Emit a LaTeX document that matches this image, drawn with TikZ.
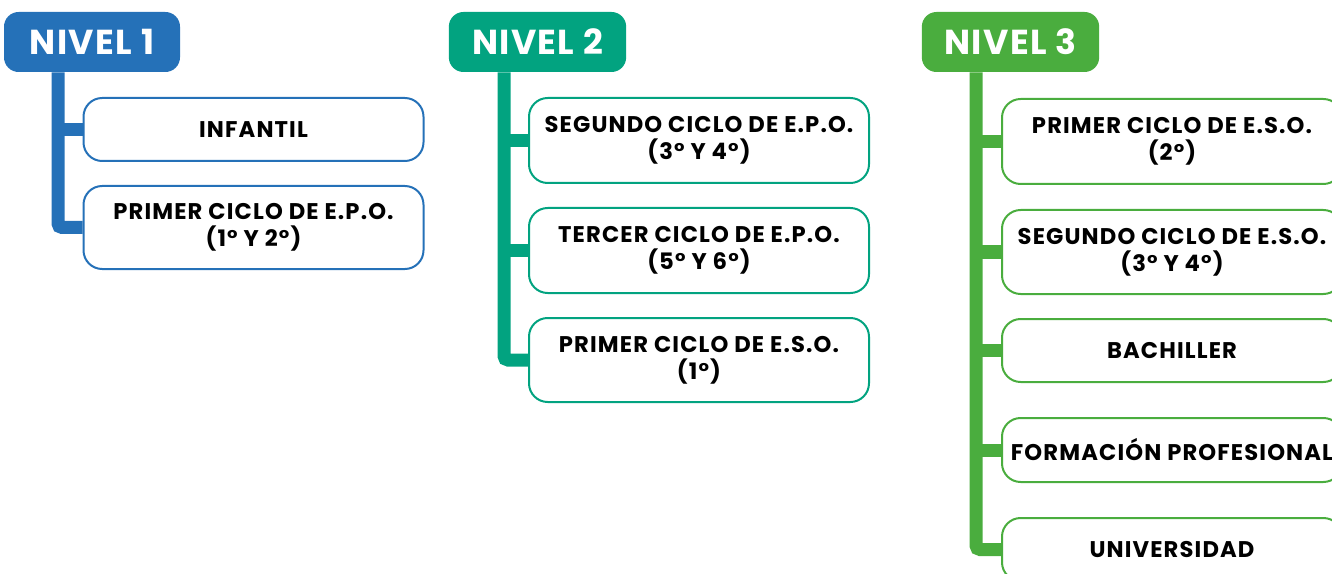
\documentclass[tikz,border=0pt]{standalone}
\usepackage{fontspec}
\setmainfont{Poppins}[BoldFont={* Bold}]
\newfontfamily\boxfont{Poppins Bold}[LetterSpace=5]
\newfontfamily\headfont{Poppins Bold}[LetterSpace=4]
\definecolor{cblue}{RGB}{37,113,184}
\definecolor{cteal}{RGB}{2,163,128}
\definecolor{cgreen}{RGB}{74,173,62}
\begin{document}
\begin{tikzpicture}[x=0.75pt,y=-0.75pt,
  header/.style={fill=#1, draw=none, rounded corners=11pt, text=white,
    font=\headfont\fontsize{26}{28}\selectfont, inner sep=0pt, minimum height=45pt},
  itembox/.style={draw=#1, line width=1.5pt, fill=white, rounded corners=14pt,
    align=center, font=\boxfont\fontsize{17}{20.5}\selectfont, inner sep=0pt,
    minimum width=255pt},
  trunk/.style={draw=#1, line width=9.75pt, rounded corners=3pt},
  branch/.style={draw=#1, line width=9.75pt}
]
\useasboundingbox (0,0) rectangle (1332,574);
\clip (0,0) rectangle (1332,574);
% headers
\node[header=cblue, minimum width=132pt] (h1) at (92,42) {NIVEL 1};
\node[header=cteal, minimum width=133pt] (h2) at (537.5,42) {NIVEL 2};
\node[header=cgreen, minimum width=133pt] (h3) at (1010.5,42) {NIVEL 3};
% level 1
\node[itembox=cblue, minimum height=47.25pt] (a1) at (253.5,129.5) {INFANTIL};
\node[itembox=cblue, minimum height=62.25pt] (a2) at (253.5,227.5) {PRIMER CICLO DE E.P.O.\\(1° Y 2°)};
% level 2
\node[itembox=cteal, minimum height=63.75pt] (b1) at (699,140.5) {SEGUNDO CICLO DE E.P.O.\\(3° Y 4°)};
\node[itembox=cteal, minimum height=63.75pt] (b2) at (699,250.5) {TERCER CICLO DE E.P.O.\\(5° Y 6°)};
\node[itembox=cteal, minimum height=63pt] (b3) at (699,360) {PRIMER CICLO DE E.S.O.\\(1°)};
% level 3
\node[itembox=cgreen, minimum height=63.75pt] (c1) at (1172,141.5) {PRIMER CICLO DE E.S.O.\\(2°)};
\node[itembox=cgreen, minimum height=63pt] (c2) at (1172,252) {SEGUNDO CICLO DE E.S.O.\\(3° Y 4°)};
\node[itembox=cgreen, minimum height=47.25pt] (c3) at (1172,350.5) {BACHILLER};
\node[itembox=cgreen, minimum height=48pt] (c4) at (1172,450) {FORMACIÓN PROFESIONAL};
\node[itembox=cgreen, minimum height=47.25pt] (c5) at (1172,549.5) {UNIVERSIDAD};
% trunk coordinates
\coordinate (t1) at (58,0);
\coordinate (t2) at (504,0);
\coordinate (t3) at (976,0);
% connectors
\path[trunk=cblue] (t1 |- h1.south) -- (t1 |- a2.west) -- (a2.west);
\path[branch=cblue] (t1 |- a1.west) -- (a1.west);
\path[trunk=cteal] (t2 |- h2.south) -- (t2 |- b3.west) -- (b3.west);
\path[branch=cteal] (t2 |- b1.west) -- (b1.west);
\path[branch=cteal] (t2 |- b2.west) -- (b2.west);
\path[trunk=cgreen] (t3 |- h3.south) -- (t3 |- c5.west) -- (c5.west);
\path[branch=cgreen] (t3 |- c1.west) -- (c1.west);
\path[branch=cgreen] (t3 |- c2.west) -- (c2.west);
\path[branch=cgreen] (t3 |- c3.west) -- (c3.west);
\path[branch=cgreen] (t3 |- c4.west) -- (c4.west);
\end{tikzpicture}
\end{document}
